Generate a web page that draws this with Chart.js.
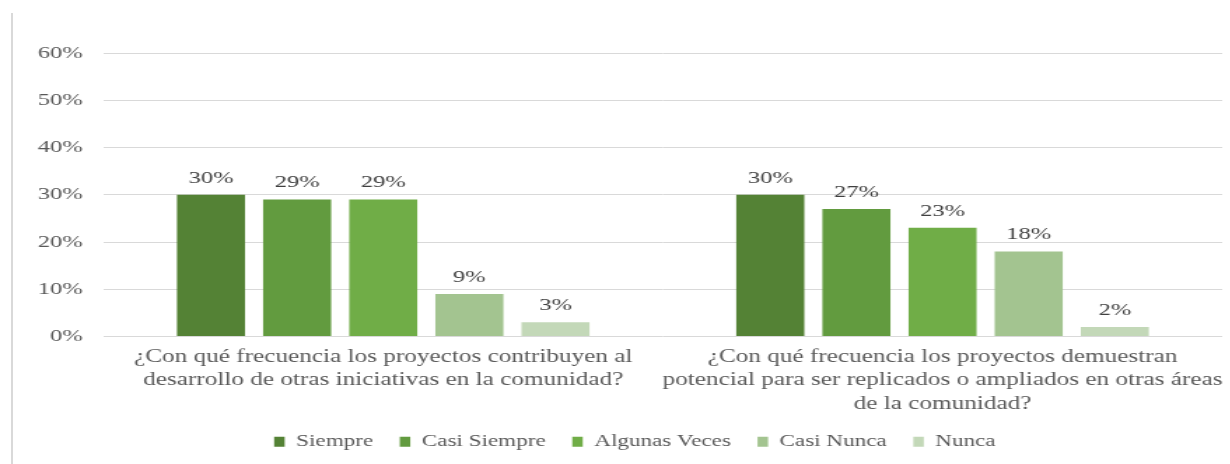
<!DOCTYPE html>
<html>
<head>
<meta charset="utf-8">
<script src="https://cdn.jsdelivr.net/npm/chart.js@4.4.1/dist/chart.umd.min.js"></script>
<style>
  html, body { margin: 0; padding: 0; background: #fff; }
  #wrap { position: relative; width: 1230px; height: 464px; overflow: hidden; }
  #edge { position: absolute; left: 11px; top: 13px; bottom: 0; border-left: 2px solid #d9d9d9; }
  /* the source picture is stretched sideways, so the chart is drawn narrow and widened */
  #stretch { position: absolute; left: 0; top: 0; width: 879px; height: 464px; transform: scaleX(1.4); transform-origin: 0 0; }
</style>
</head>
<body>
<div id="wrap">
  <div id="edge"></div>
  <div id="stretch"><canvas id="chart"></canvas></div>
</div>
<script>
// Frecuencia de impacto de los proyectos

const categories = [
  ["¿Con qué frecuencia los proyectos contribuyen al", "desarrollo de otras iniciativas en la comunidad?"],
  ["¿Con qué frecuencia los proyectos demuestran", "potencial para ser replicados o ampliados en otras áreas", "de la comunidad?"]
];
const seriesNames = ["Siempre", "Casi Siempre", "Algunas Veces", "Casi Nunca", "Nunca"];
const siempre = [30, 30];
const casiSiempre = [29, 27];
const algunasVeces = [29, 23];
const casiNunca = [9, 18];
const nunca = [3, 2];
const yTicks = [0, 10, 20, 30, 40, 50, 60];

const colors = ["#548235", "#629b3f", "#70ad47", "#a3c490", "#c3d8b8"];
const FONT = "'Liberation Serif', 'Times New Roman', serif";

const valueLabels = {
  id: "valueLabels",
  afterDatasetsDraw(chart) {
    const ctx = chart.ctx;
    ctx.save();
    ctx.font = "17.5px " + FONT;
    ctx.fillStyle = "#404040";
    ctx.textAlign = "center";
    ctx.textBaseline = "bottom";
    chart.data.datasets.forEach(function(ds, i) {
      chart.getDatasetMeta(i).data.forEach(function(bar, j) {
        ctx.fillText(ds.data[j] + "%", bar.x, bar.y - 8);
      });
    });
    ctx.restore();
  }
};

// let the 3-line category label spill below the x scale box, nudge legend
const layoutTweak = {
  id: "layoutTweak",
  afterLayout(chart) {
    chart.scales.x.bottom = chart.height;
    chart.legend.left += 17;
    chart.legend.right += 17;
    chart.legend.top += 3;
    chart.legend.bottom += 3;
  }
};

const series = [siempre, casiSiempre, algunasVeces, casiNunca, nunca];

new Chart(document.getElementById("chart"), {
  type: "bar",
  data: {
    labels: categories,
    datasets: series.map(function(vals, i) {
      return {
        label: seriesNames[i],
        data: vals,
        backgroundColor: colors[i],
        categoryPercentage: 0.77,
        barPercentage: 0.79
      };
    })
  },
  plugins: [valueLabels, layoutTweak],
  options: {
    responsive: true,
    maintainAspectRatio: false,
    animation: false,
    layout: { padding: { top: 53, right: 6, bottom: 7, left: 0 } },
    plugins: {
      tooltip: { enabled: false },
      legend: {
        position: "bottom",
        labels: {
          boxWidth: 7.5,
          boxHeight: 10,
          padding: 19,
          color: "#595959",
          font: { family: FONT, size: 16.5 }
        }
      }
    },
    scales: {
      x: {
        grid: { display: false, drawTicks: false },
        border: { display: false },
        ticks: {
          color: "#595959",
          font: { family: FONT, size: 18, lineHeight: 1.3 },
          padding: 9,
          maxRotation: 0,
          autoSkip: false
        },
        afterFit: function(scale) {
          scale.height = 75;
          scale.paddingLeft = 0;
          scale.paddingRight = 0;
        }
      },
      y: {
        min: 0,
        max: 60,
        afterBuildTicks: function(scale) {
          scale.ticks = yTicks.map(function(v) { return { value: v }; });
        },
        grid: { color: "#d9d9d9", lineWidth: 1, drawTicks: false },
        border: { display: false },
        ticks: {
          color: "#595959",
          font: { family: FONT, size: 17.5 },
          padding: 15,
          callback: function(v) { return v + "%"; }
        },
        afterFit: function(scale) { scale.width = 74; }
      }
    }
  }
});
</script>
</body>
</html>
